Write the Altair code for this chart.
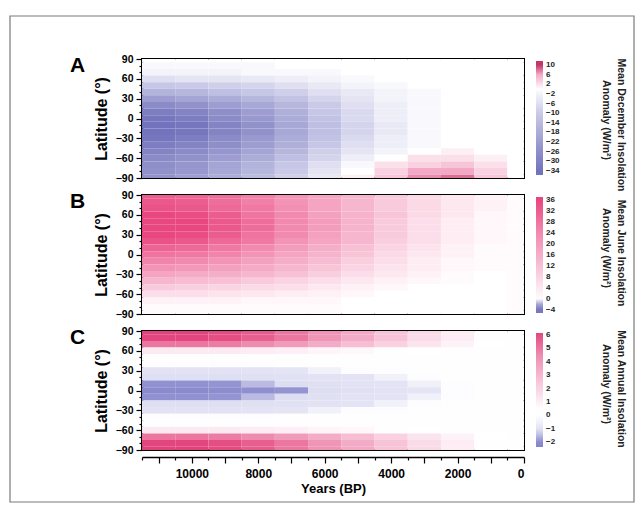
import altair as alt
import pandas as pd

# ---- data (rows: latitude 90 -> -90, cols: years BP 11000 -> 0)
years = [11000, 10000, 9000, 8000, 7000, 6000, 5000, 4000, 3000, 2000, 1000, 0]
lats = [90, 80, 70, 60, 50, 40, 30, 20, 10, 0, -10, -20, -30, -40, -50, -60, -70, -80, -90]

dec_anom = [
    [0, 0, 0, 0, 0, 0, 0, 0, 0, 0, 0, 0],
    [-1, -1, -1, -1, 0, 0, 0, 0, 0, 0, 0, 0],
    [-2, -2, -2, -1, -1, -1, 0, 0, 0, 0, 0, 0],
    [-6, -5, -5, -4, -3, -2, -1, 0, 0, 0, 0, 0],
    [-11, -10, -9, -8, -6, -4, -2, -1, 0, 0, 0, 0],
    [-16, -15, -13, -11, -9, -6, -4, -2, -1, 0, 0, 0],
    [-22, -20, -18, -15, -12, -8, -5, -2, -1, 0, 0, 0],
    [-27, -25, -22, -19, -15, -10, -6, -3, -1, 0, 0, 0],
    [-31, -29, -26, -22, -17, -11, -7, -3, -1, 0, 0, 0],
    [-33, -31, -27, -23, -18, -12, -7, -3, -1, 0, 0, 0],
    [-35, -33, -29, -25, -19, -13, -8, -4, -1, 0, 0, 0],
    [-35, -33, -29, -25, -19, -13, -8, -4, -1, 0, 0, 0],
    [-33, -31, -27, -23, -18, -12, -7, -3, -1, 0, 0, 0],
    [-31, -29, -26, -22, -17, -11, -6, -3, -1, 0, 0, 0],
    [-29, -27, -24, -20, -15, -9, -5, -2, 0, 1, 0, 0],
    [-27, -25, -22, -18, -13, -8, -3, 0, 2, 2, 1, 0],
    [-26, -24, -20, -16, -11, -6, -1, 2, 3, 4, 2, 0],
    [-25, -23, -19, -15, -10, -5, 0, 3, 6, 6, 3, 0],
    [-25, -22, -18, -14, -9, -4, 1, 4, 7, 8, 4, 0],
]

jun_anom = [
    [32, 31, 29, 26, 22, 18, 14, 10, 7, 4, 2, 0],
    [33, 32, 29, 26, 22, 18, 14, 10, 7, 4, 2, 0],
    [34, 33, 30, 27, 23, 18, 14, 10, 7, 4, 2, 0],
    [36, 35, 32, 28, 24, 19, 15, 11, 7, 4, 1, 0],
    [37, 36, 33, 29, 24, 20, 15, 10, 6, 3, 1, 0],
    [37, 36, 33, 29, 24, 20, 15, 10, 6, 3, 1, 0],
    [36, 35, 32, 28, 24, 19, 14, 10, 6, 3, 1, 0],
    [34, 33, 30, 27, 22, 18, 14, 9, 6, 3, 1, 0],
    [31, 30, 27, 24, 20, 16, 12, 8, 5, 2, 0, 0],
    [28, 27, 25, 22, 18, 15, 11, 7, 4, 2, 0, 0],
    [25, 24, 22, 19, 16, 13, 9, 6, 3, 1, 0, 0],
    [22, 21, 19, 17, 14, 11, 8, 5, 3, 1, 0, 0],
    [18, 17, 16, 14, 12, 9, 6, 4, 2, 0, -1, 0],
    [14, 13, 12, 10, 8, 6, 4, 2, 1, 0, -1, 0],
    [10, 9, 8, 7, 6, 4, 2, 1, -1, -1, -1, 0],
    [6, 6, 5, 4, 3, 2, 1, -1, -1, -1, -1, 0],
    [2, 2, 2, 1, 1, 1, -1, -1, -1, -1, -1, 0],
    [0, 0, 0, 0, 0, 0, -1, -1, -1, -1, -1, 0],
    [0, 0, 0, 0, 0, 0, -1, -1, -1, -1, -1, 0],
]

ann_anom = [
    [6.3, 6.3, 6.1, 5.7, 5.0, 4.3, 3.5, 2.6, 1.8, 1.1, 0.5, 0],
    [6.2, 6.2, 6.0, 5.6, 5.0, 4.2, 3.4, 2.6, 1.7, 1.1, 0.5, 0],
    [5.0, 5.0, 4.9, 4.5, 4.0, 3.4, 2.8, 2.1, 1.4, 0.9, 0.4, 0],
    [1.2, 1.2, 1.2, 1.1, 1.0, 0.8, 0.7, 0.5, 0.3, 0.2, 0.1, 0],
    [0.2, 0.2, 0.2, 0.2, 0.2, 0.1, 0.1, 0.1, 0.1, 0, 0, 0],
    [-0.3, -0.3, -0.3, -0.3, -0.2, -0.2, -0.2, -0.1, -0.1, -0.1, 0, 0],
    [-0.8, -0.8, -0.8, -0.7, -0.6, -0.5, -0.4, -0.3, -0.2, -0.1, -0.1, 0],
    [-1.3, -1.3, -1.3, -1.2, -1.0, -0.9, -0.7, -0.5, -0.4, -0.2, -0.1, 0],
    [-1.7, -1.7, -1.6, -1.5, -1.4, -1.2, -0.9, -0.7, -0.5, -0.3, -0.1, 0],
    [-2.0, -2.0, -1.9, -1.8, -1.6, -1.4, -1.1, -0.8, -0.6, -0.3, -0.2, 0],
    [-1.7, -1.7, -1.6, -1.5, -1.4, -1.2, -0.9, -0.7, -0.5, -0.3, -0.1, 0],
    [-1.3, -1.3, -1.3, -1.2, -1.0, -0.9, -0.7, -0.5, -0.4, -0.2, -0.1, 0],
    [-0.8, -0.8, -0.8, -0.7, -0.6, -0.5, -0.4, -0.3, -0.2, -0.1, -0.1, 0],
    [-0.3, -0.3, -0.3, -0.3, -0.2, -0.2, -0.2, -0.1, -0.1, -0.1, 0, 0],
    [0.2, 0.2, 0.2, 0.2, 0.2, 0.1, 0.1, 0.1, 0.1, 0, 0, 0],
    [1.2, 1.2, 1.2, 1.1, 1.0, 0.8, 0.7, 0.5, 0.3, 0.2, 0.1, 0],
    [5.0, 5.0, 4.9, 4.5, 4.0, 3.4, 2.8, 2.1, 1.4, 0.9, 0.4, 0],
    [6.2, 6.2, 6.0, 5.6, 5.0, 4.2, 3.4, 2.6, 1.7, 1.1, 0.5, 0],
    [6.3, 6.3, 6.1, 5.7, 5.0, 4.3, 3.5, 2.6, 1.8, 1.1, 0.5, 0],
]

dec_ticks = [10, 6, 2, -2, -6, -10, -14, -18, -22, -26, -30, -34]
jun_ticks = [36, 32, 28, 24, 20, 16, 12, 8, 4, 0, -4]
ann_ticks = [6, 5, 4, 3, 2, 1, 0, -1, -2]

dec_title = ["Mean December Insolation", "Anomaly (W/m²)"]
jun_title = ["Mean June Insolation", "Anomaly (W/m²)"]
ann_title = ["Mean Annual Insolation", "Anomaly (W/m²)"]

FONT = "Liberation Sans"
W, H = 382, 119


def grid(rows):
    recs = []
    for lat, row in zip(lats, rows):
        for yr, v in zip(years, row):
            recs.append({"year": yr, "lat": lat, "value": v})
    return pd.DataFrame(recs)


y_axis = alt.Axis(
    values=list(range(-90, 91, 10)),
    labelExpr="datum.value % 30 === 0 ? datum.label : ''",
    tickSize={"condition": {"test": "datum.value % 30 === 0", "value": 6}, "value": 3},
    labelFontSize=10.5, titleFontSize=16, titlePadding=6, labelPadding=3,
    grid=False,
)

x_axis = alt.Axis(
    values=list(range(0, 11501, 500)),
    format="d",
    labelExpr="datum.value % 2000 === 0 ? datum.label : ''",
    tickSize={"condition": {"test": "datum.value % 1000 === 0", "value": 6}, "value": 3},
    labelFontSize=12, titleFontSize=13, offset=7, labelPadding=5, titlePadding=3,
    grid=False,
)


def panel(rows, letter, scale, legend, title_lines, title_mid, show_x, frame=False):
    df = grid(rows)
    base = alt.Chart(df).transform_calculate(
        x0="datum.year + 500", x1="datum.year - 500",
        y0="datum.lat + 5", y1="datum.lat - 5",
    )
    rect = base.mark_rect(clip=True).encode(
        x=alt.X("x0:Q", scale=alt.Scale(domain=[11500, 0], nice=False, zero=False),
                axis=x_axis if show_x else None, title="Years (BP)"),
        x2="x1:Q",
        y=alt.Y("y0:Q", scale=alt.Scale(domain=[-90, 90], nice=False, zero=False),
                axis=y_axis, title="Latitude (°)"),
        y2="y1:Q",
        color=alt.Color("value:Q", scale=scale, legend=legend),
    )
    lab = alt.Chart(pd.DataFrame({"panel": [letter]})).mark_text(
        align="left", baseline="middle", fontSize=21, fontWeight="bold", font=FONT, color="black"
    ).encode(text="panel:N", x=alt.value(-72), y=alt.value(7))
    t1 = alt.Chart(pd.DataFrame({"t": [title_lines[0]]})).mark_text(
        align="center", baseline="middle", angle=90, fontSize=10.5, fontWeight="bold",
        font=FONT, color="#222"
    ).encode(text="t:N", x=alt.value(W + 97), y=alt.value(title_mid))
    t2 = alt.Chart(pd.DataFrame({"t": [title_lines[1]]})).mark_text(
        align="center", baseline="middle", angle=90, fontSize=10.5, fontWeight="bold",
        font=FONT, color="#222"
    ).encode(text="t:N", x=alt.value(W + 82), y=alt.value(title_mid - 5))
    layers = [rect, lab, t1, t2]
    if frame:
        # thin grey border drawn around the whole figure, as in the scanned original
        border = alt.Chart(pd.DataFrame({"f": [1]})).mark_rect(
            fill=None, stroke="#7a7a7a", strokeWidth=1.2, clip=False
        ).encode(x=alt.value(-132), x2=alt.value(492), y=alt.value(-43), y2=alt.value(443))
        layers = [border] + layers
    return alt.layer(*layers).properties(width=W, height=H)


def legend(values, length):
    return alt.Legend(
        type="gradient", title=None,
        gradientLength=length, gradientThickness=7, gradientStrokeWidth=0,
        values=values, labelFontSize=8, labelFontWeight="bold", labelOverlap=False,
        labelOffset=3,
        labelColor="#222", offset=10, direction="vertical", padding=2,
    )


scale_a = alt.Scale(
    domain=[-35.6, -34, -26, -18, -10, -2, 0, 2, 6, 10, 11.6],
    range=["#7373bd", "#7373bd", "#8e8ec9", "#abacd8", "#cacae8", "#f3f3fa", "#ffffff",
           "#fbe0ea", "#f3a9c5", "#c23669", "#c23669"],
    interpolate="rgb", nice=False,
)
scale_b = alt.Scale(
    domain=[-5.2, -4, -2.5, -1, 1, 12, 24, 36, 37.2],
    range=["#7878c0", "#7878c0", "#7878c0", "#ffffff", "#fff7fa", "#f7c0d4", "#f28aaf",
           "#e9477f", "#e9477f"],
    interpolate="rgb", nice=False,
)
scale_c = alt.Scale(
    domain=[-2.35, -2.2, -1.55, -1.45, -0.55, -0.45, 0.45, 1.5, 3, 4.5, 6.15],
    range=["#8585cc", "#8585cc", "#9595d2", "#dedef2", "#e4e4f5", "#fdfdff", "#ffffff",
           "#fbe1ec", "#f5b8cf", "#ee8cb0", "#e3487f"],
    interpolate="rgb", nice=False,
)

pa = panel(dec_anom, "A", scale_a, legend(dec_ticks, 114), dec_title, 66, False, frame=True)
pb = panel(jun_anom, "B", scale_b, legend(jun_ticks, 116), jun_title, 58, False)
pc = panel(ann_anom, "C", scale_c, legend(ann_ticks, 114), ann_title, 58, True)

chart = alt.vconcat(pa, pb, pc, spacing=17, bounds="flush").resolve_scale(
    color="independent"
).resolve_legend(color="independent").properties(
    padding={"left": 0, "top": 6, "right": 0, "bottom": 0}
).configure(
    font=FONT, background="white"
).configure_view(
    stroke="black", strokeWidth=2
).configure_axis(
    labelFont=FONT, titleFont=FONT, labelFontWeight="bold", titleFontWeight="bold",
    labelColor="black", titleColor="black", domainColor="black", tickColor="black",
    domainWidth=1.5, tickWidth=1.2,
).configure_legend(
    labelFont=FONT, titleFont=FONT,
)

chart.save("out.html", embed_options={"renderer": "svg", "actions": False})
